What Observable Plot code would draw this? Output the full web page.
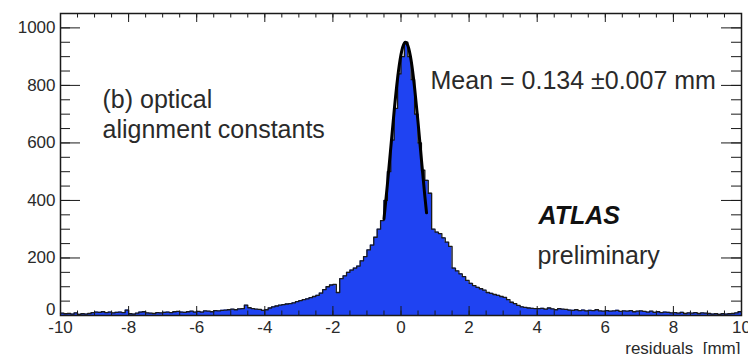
<!DOCTYPE html>
<html><head><meta charset="utf-8">
<script src="https://cdn.jsdelivr.net/npm/d3@7"></script>
<script src="https://cdn.jsdelivr.net/npm/@observablehq/plot@0.6"></script>
<style>body{margin:0;background:#fff;} svg{display:block;}</style>
</head><body><div id="chart"></div>
<script>
// Histogram: 200 bins of 0.1 mm from -10 to 10 mm
const binLow = -10, binHigh = 10, binWidth = 0.1;
const counts = [
  8, 6, 7, 5, 9, 4, 6, 5, 7, 10,          // -10 .. -9
  12, 11, 13, 10, 12, 9, 11, 12, 10, 19,  // -9 .. -8
  6, 5, 8, 12, 13, 9, 8, 7, 10, 9,        // -8 .. -7
  11, 12, 10, 13, 14, 12, 11, 13, 15, 12, // -7 .. -6
  14, 12, 16, 15, 13, 17, 16, 18, 19, 20, // -6 .. -5
  22, 20, 23, 24, 36, 27, 24, 22, 21, 18, // -5 .. -4
  20, 26, 30, 33, 36, 38, 40, 41, 44, 48, // -4 .. -3
  52, 55, 58, 62, 66, 70, 78, 90, 100, 106, // -3 .. -2
  108, 80, 128, 138, 150, 158, 165, 172, 190, 205, // -2 .. -1
  228, 245, 272, 300, 330, 400, 500, 610, 720, 840, // -1 .. 0
  900, 950, 900, 820, 700, 600, 505, 470, 425, 300, // 0 .. 1
  290, 285, 270, 255, 240, 165, 155, 145, 135, 122, // 1 .. 2
  112, 104, 98, 93, 88, 80, 77, 73, 70, 66,  // 2 .. 3
  63, 55, 46, 41, 35, 30, 28, 26, 25, 24,    // 3 .. 4
  24, 25, 22, 26, 23, 20, 24, 22, 21, 19,    // 4 .. 5
  18, 20, 17, 19, 16, 18, 17, 20, 16, 15,    // 5 .. 6
  17, 15, 16, 18, 14, 16, 15, 17, 13, 15,    // 6 .. 7
  16, 14, 12, 15, 11, 13, 10, 12, 11, 9,     // 7 .. 8
  10, 8, 11, 7, 9, 8, 10, 7, 9, 8,           // 8 .. 9
  7, 5, 6, 4, 6, 5, 6, 7, 9, 13              // 9 .. 10
];
// Fit curve points
const fitX = [-0.5, -0.4, -0.3, -0.2, -0.1, 0, 0.1, 0.2, 0.3, 0.4, 0.5, 0.6, 0.7, 0.75];
const fitY = [336, 455, 584, 712, 825, 907, 947, 939, 885, 791, 672, 542, 415, 357];

const xMajorTicks = [-10, -8, -6, -4, -2, 0, 2, 4, 6, 8, 10];
const xMinorTicks = d3.range(-10, 10.001, 0.5);
const yMajorTicks = [0, 200, 400, 600, 800, 1000];
const yLabelTicks = [200, 400, 600, 800, 1000];
const yMinorTicks = d3.range(0, 1050, 50);
const xTitle = "residuals  [mm]";
const label1 = "(b) optical";
const label2 = "alignment constants";
const meanLabel = "Mean = 0.134 \u00b10.007 mm";
const atlasLabel = "ATLAS";
const prelimLabel = "preliminary";

const W = 748, H = 354, mL = 60, mR = 7, mT = 13, mB = 39;
const iW = W - mL - mR, iH = H - mT - mB;
const blue = "#1f43f2", ink = "#1a1a1a", txt = "#2a2a2a";
const font = "'Liberation Sans', Arial, Helvetica, sans-serif";

const stepData = counts.map((c, i) => ({x: binLow + i * binWidth, y: c}));
stepData.push({x: binHigh, y: counts[counts.length - 1]});
const fitData = fitX.map((x, i) => ({x, y: fitY[i]}));

const chart = Plot.plot({
  width: W, height: H,
  marginLeft: mL, marginRight: mR, marginTop: mT, marginBottom: mB,
  style: {fontFamily: font, background: "#fff"},
  x: {domain: [-10, 10], axis: null},
  y: {domain: [0, 1050], axis: null},
  marks: [
    Plot.areaY(stepData, {x: "x", y: "y", curve: "step-after", fill: blue}),
    Plot.lineY(stepData, {x: "x", y: "y", curve: "step-after", stroke: ink, strokeWidth: 1.3}),
    Plot.line(fitData, {x: "x", y: "y", curve: "natural", stroke: "#000", strokeWidth: 3}),
    // inward ticks bottom/top
    Plot.tickX(xMajorTicks, {x: d => d, insetTop: iH - 9, stroke: ink}),
    Plot.tickX(xMinorTicks, {x: d => d, insetTop: iH - 4.5, stroke: ink}),
    Plot.tickX(xMajorTicks, {x: d => d, insetBottom: iH - 9, stroke: ink}),
    Plot.tickX(xMinorTicks, {x: d => d, insetBottom: iH - 4.5, stroke: ink}),
    // inward ticks left/right
    Plot.tickY(yMajorTicks, {y: d => d, insetRight: iW - 20, stroke: ink}),
    Plot.tickY(yMinorTicks, {y: d => d, insetRight: iW - 10, stroke: ink}),
    Plot.tickY(yMajorTicks, {y: d => d, insetLeft: iW - 20, stroke: ink}),
    Plot.tickY(yMinorTicks, {y: d => d, insetLeft: iW - 10, stroke: ink}),
    Plot.frame({stroke: ink, strokeWidth: 1.5}),
    Plot.axisX(xMajorTicks, {tickSize: 0, tickPadding: 5, fontSize: 17, fill: txt, tickFormat: d => String(d), label: null}),
    Plot.axisY(yLabelTicks, {tickSize: 0, tickPadding: 5, fontSize: 17, fill: txt, tickFormat: d => String(d), label: null}),
    Plot.text([0], {y: d => d, frameAnchor: "left", dx: -5, dy: -6, textAnchor: "end", text: d => String(d), fontSize: 17, fill: txt}),
    Plot.text([xTitle], {frameAnchor: "bottom-right", dx: -1, dy: 38, textAnchor: "end", lineAnchor: "bottom", fontSize: 17, fill: txt}),
    Plot.text([label1], {frameAnchor: "top-left", dx: 42, dy: 94, textAnchor: "start", lineAnchor: "bottom", fontSize: 25, fill: txt}),
    Plot.text([label2], {frameAnchor: "top-left", dx: 42, dy: 124, textAnchor: "start", lineAnchor: "bottom", fontSize: 25, fill: txt}),
    Plot.text([meanLabel], {frameAnchor: "top-left", dx: 370, dy: 75, textAnchor: "start", lineAnchor: "bottom", fontSize: 25, fill: txt}),
    Plot.text([atlasLabel], {frameAnchor: "top-left", dx: 478, dy: 210, textAnchor: "start", lineAnchor: "bottom", fontSize: 25, fontWeight: "bold", fontStyle: "italic", fill: "#111"}),
    Plot.text([prelimLabel], {frameAnchor: "top-left", dx: 477, dy: 250, textAnchor: "start", lineAnchor: "bottom", fontSize: 25, fill: txt})
  ]
});
document.getElementById("chart").appendChild(chart);
</script>
</body></html>
